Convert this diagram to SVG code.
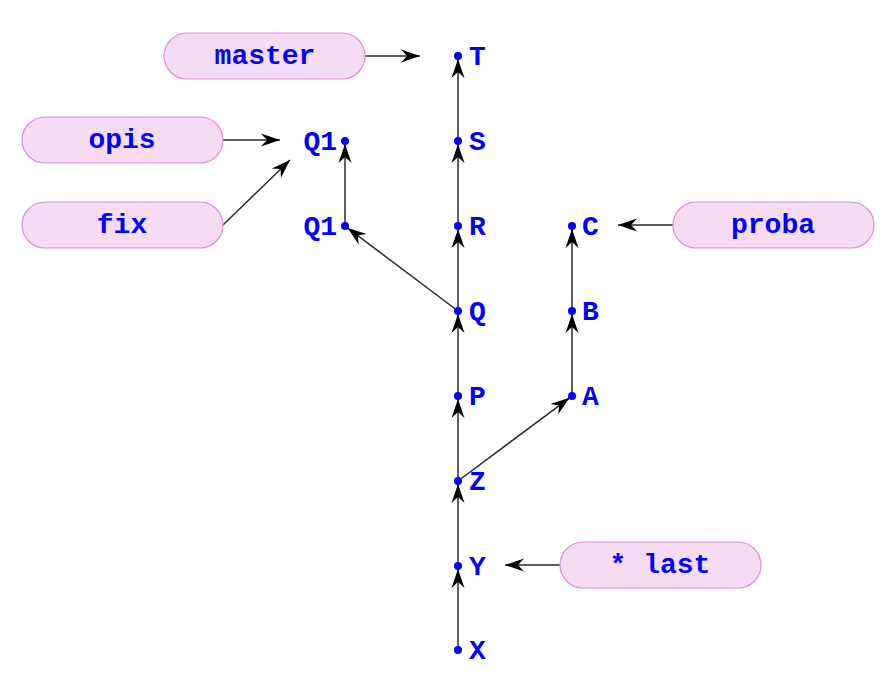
<svg xmlns="http://www.w3.org/2000/svg" width="889" height="682" viewBox="0 0 889 682">
  <style>
    .pill rect { fill: #f5dbf3; stroke: #d98fd8; stroke-width: 1.2; }
    text { font-family: "Liberation Mono", "Courier New", monospace; font-weight: bold; font-size: 28px; fill: #0000ff; }
    .pill text { text-anchor: middle; }
    .lbl-l { text-anchor: end; }
    .dot { fill: #0000ff; }
    .edge { stroke: #2a2a2a; stroke-width: 1.5; fill: none; marker-end: url(#stealth); }
  </style>
  <defs>
    <!-- barbed arrowhead, tip at the line end -->
    <marker id="stealth" markerUnits="userSpaceOnUse" viewBox="-20 -8 22 16" refX="0" refY="0" markerWidth="22" markerHeight="16" orient="auto">
      <path d="M0,0 L-19,-6.5 L-13,0 L-19,6.5 Z" fill="#000"/>
    </marker>
  </defs>

  <!-- connectors -->
  <g id="connectors">
    <line class="edge" x1="458" y1="650" x2="458" y2="569"/>
    <line class="edge" x1="458" y1="566" x2="458" y2="484"/>
    <line class="edge" x1="458" y1="481" x2="458" y2="399"/>
    <line class="edge" x1="458" y1="396" x2="458" y2="314"/>
    <line class="edge" x1="458" y1="311" x2="458" y2="229"/>
    <line class="edge" x1="458" y1="226" x2="458" y2="144"/>
    <line class="edge" x1="458" y1="141" x2="458" y2="59"/>
    <line class="edge" x1="458" y1="481" x2="569.6" y2="397.8"/>
    <line class="edge" x1="572" y1="396" x2="572" y2="314"/>
    <line class="edge" x1="572" y1="311" x2="572" y2="229"/>
    <line class="edge" x1="458" y1="311" x2="347.4" y2="227.8"/>
    <line class="edge" x1="345" y1="226" x2="345" y2="144"/>
    <line class="edge" x1="365" y1="56" x2="420" y2="56"/>
    <line class="edge" x1="223" y1="140" x2="280" y2="140"/>
    <line class="edge" x1="223" y1="225" x2="290" y2="160"/>
    <line class="edge" x1="673" y1="225" x2="618" y2="225"/>
    <line class="edge" x1="560" y1="565" x2="505" y2="565"/>
  </g>

  <!-- commits, main line -->
  <g id="node-T"><circle class="dot" cx="458" cy="56" r="4"/><text x="469" y="65">T</text></g>
  <g id="node-S"><circle class="dot" cx="458" cy="141" r="4"/><text x="469" y="150">S</text></g>
  <g id="node-R"><circle class="dot" cx="458" cy="226" r="4"/><text x="469" y="235">R</text></g>
  <g id="node-Q"><circle class="dot" cx="458" cy="311" r="4"/><text x="469" y="320">Q</text></g>
  <g id="node-P"><circle class="dot" cx="458" cy="396" r="4"/><text x="469" y="405">P</text></g>
  <g id="node-Z"><circle class="dot" cx="458" cy="481" r="4"/><text x="469" y="490">Z</text></g>
  <g id="node-Y"><circle class="dot" cx="458" cy="566" r="4"/><text x="469" y="575">Y</text></g>
  <g id="node-X"><circle class="dot" cx="458" cy="650" r="4"/><text x="469" y="659">X</text></g>

  <!-- side branch -->
  <g id="node-A"><circle class="dot" cx="572" cy="396" r="4"/><text x="582" y="405">A</text></g>
  <g id="node-B"><circle class="dot" cx="572" cy="311" r="4"/><text x="582" y="320">B</text></g>
  <g id="node-C"><circle class="dot" cx="572" cy="226" r="4"/><text x="582" y="235">C</text></g>

  <!-- Q1 commits -->
  <g id="node-Q1b"><circle class="dot" cx="345" cy="226" r="4"/><text class="lbl-l" x="337" y="235">Q1</text></g>
  <g id="node-Q1a"><circle class="dot" cx="345" cy="141" r="4"/><text class="lbl-l" x="337" y="150">Q1</text></g>

  <!-- refs -->
  <g id="ref-master" class="pill"><rect x="164" y="33" width="201" height="46" rx="23"/><text x="265" y="64">master</text></g>
  <g id="ref-opis" class="pill"><rect x="22" y="117" width="201" height="46" rx="23"/><text x="122" y="148">opis</text></g>
  <g id="ref-fix" class="pill"><rect x="22" y="202" width="201" height="46" rx="23"/><text x="122" y="233">fix</text></g>
  <g id="ref-proba" class="pill"><rect x="673" y="202" width="201" height="46" rx="23"/><text x="773" y="233">proba</text></g>
  <g id="ref-last" class="pill"><rect x="560" y="542" width="201" height="46" rx="23"/><text x="660" y="573">* last</text></g>
</svg>
